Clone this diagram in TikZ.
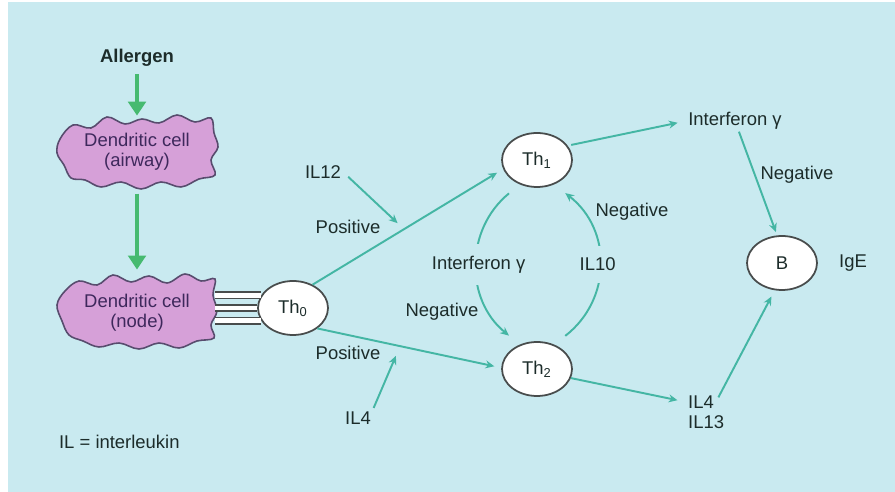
\documentclass[tikz,border=0pt]{standalone}
\usepackage{fontspec}
\setmainfont{Liberation Sans}
\usetikzlibrary{arrows.meta,positioning,shapes.geometric}
\definecolor{ILbg}{RGB}{201,234,240}
\definecolor{ILteal}{RGB}{68,182,164}
\definecolor{ILgreen}{RGB}{70,186,112}
\definecolor{ILtext}{RGB}{28,44,42}
\definecolor{ILpink}{RGB}{214,160,216}
\definecolor{ILplum}{RGB}{88,76,110}
\definecolor{ILink}{RGB}{62,40,92}
\definecolor{ILrim}{RGB}{72,76,76}
\newcommand{\ilfont}{\fontsize{10.5}{11.5}\selectfont}
\tikzset{
  cell/.style={ellipse,draw=ILrim,line width=1pt,fill=white,text=ILtext,
               minimum width=1.4cm,minimum height=1.08cm,inner sep=0pt,font=\ilfont},
  dcell/.style={minimum width=3.1cm,minimum height=1.3cm,inner sep=0pt,
                align=center,text=ILink,font=\ilfont},
  blob/.style={draw=ILplum,line width=0.9pt,fill=ILpink},
  lbl/.style={text=ILtext,font=\ilfont,inner sep=1pt},
  gap/.style={lbl,fill=ILbg,inner xsep=1pt,inner ysep=7pt},
  fl/.style={-{Stealth[length=5pt,width=4.5pt]},line width=1.1pt,draw=ILteal},
  fg/.style={-{Triangle[length=8pt,width=10pt]},line width=2.8pt,draw=ILgreen},
  tie/.style={draw=ILrim,line width=0.7pt,double=white,double distance=2.8pt}
}
\begin{document}
\begin{tikzpicture}[x=0.02cm,y=-0.02cm]
  % panel
  \useasboundingbox (0,0) rectangle (895,492);
  \fill[white] (0,0) rectangle (895,492);
  \fill[ILbg] (8,2) rectangle (905,502);

  % dendritic cell outlines
  \draw[blob,shift={(137,151)}] plot[smooth cycle,tension=0.6] coordinates {
    (-80,2) (-77,-12) (-64,-26) (-46,-23) (-30,-34) (-12,-27) (5,-32) (22,-28)
    (40,-36) (58,-29) (74,-33) (77,-18) (81,-4) (74,9) (78,24) (62,28) (44,36)
    (24,31) (4,38) (-16,31) (-36,36) (-52,29) (-66,27) (-73,14)};
  \draw[blob,shift={(137,311)}] plot[smooth cycle,tension=0.6] coordinates {
    (-80,-6) (-72,-20) (-58,-30) (-40,-26) (-24,-36) (-6,-29) (12,-35) (30,-28)
    (48,-37) (64,-30) (78,-32) (76,-16) (80,0) (74,14) (77,27) (60,30) (42,37)
    (22,32) (2,38) (-18,32) (-38,36) (-54,30) (-68,24) (-75,10)};

  \node[lbl,font=\ilfont\bfseries] (allergen) at (137,58) {Allergen};
  \node[dcell] (dca) at (137,152) {Dendritic cell\\(airway)};
  \node[dcell] (dcn) at (137,313) {Dendritic cell\\(node)};

  % T helper cells and B cell
  \node[cell] (th0) at (293,308) {Th\textsubscript{0}};
  \node[cell] (th1) at (537,160) {Th\textsubscript{1}};
  \node[cell] (th2) at (537,369) {Th\textsubscript{2}};
  \node[cell] (b) at (782,263) {B};

  % labels
  \node[lbl] (il12) at (323,172) {IL12};
  \node[lbl] (pos1) at (348,227) {Positive};
  \node[lbl] (pos2) at (348,353) {Positive};
  \node[lbl] (il4a) at (358,418) {IL4};
  \node[lbl] (neg1) at (442,312) {Negative};
  \node[lbl] (neg2) at (632,212) {Negative};
  \node[lbl] (ifn) at (735,121) {Interferon γ};
  \node[lbl] (neg3) at (797,175) {Negative};
  \node[lbl] (ige) at (853,263) {IgE};
  \node[lbl] (il4b) at (701,402) {IL4};
  \node[lbl,below=2pt of il4b.south west,anchor=north west] (il13) {IL13};
  \node[lbl,anchor=west] (note) at (57,442) {IL = interleukin};

  % connectors
  \draw[fg,shorten <=3pt,shorten >=2pt] (allergen) -- (dca);
  \draw[fg,shorten <=5pt,shorten >=6pt] (dca) -- (dcn);
  \foreach \a in {158,180,202}
    \draw[tie] (dcn.east |- th0.\a) -- (th0.\a);

  \draw[fl,shorten >=4pt] (th0.50) -- coordinate[pos=0.48] (p12) (th1.195);
  \draw[fl,shorten <=4pt,shorten >=5pt] (il12.east) -- (p12);
  \draw[fl,shorten >=4pt] (th0.-40) -- coordinate[pos=0.45] (p4) (th2.178);
  \draw[fl,shorten <=1pt,shorten >=6pt] (il4a.north east) -- (p4);

  \draw[fl,shorten <=8pt,shorten >=8pt] (th1.235) .. controls +(-55,45) and +(-55,-45)
    .. node[gap] (ifnl) {Interferon γ} (th2.125);
  \draw[fl,shorten <=8pt,shorten >=8pt] (th2.55) .. controls +(58,-45) and +(58,45)
    .. node[gap] (il10) {IL10} (th1.305);

  \draw[fl,shorten <=2pt,shorten >=5pt] (th1.25) -- (ifn.west);
  \draw[fl,shorten >=2pt] (ifn) -- (b.100);
  \draw[fl,shorten >=5pt] (th2.-15) -- (il4b.west);
  \draw[fl,shorten <=3pt,shorten >=4pt] (il4b.east) -- (b.-105);
\end{tikzpicture}
\end{document}
